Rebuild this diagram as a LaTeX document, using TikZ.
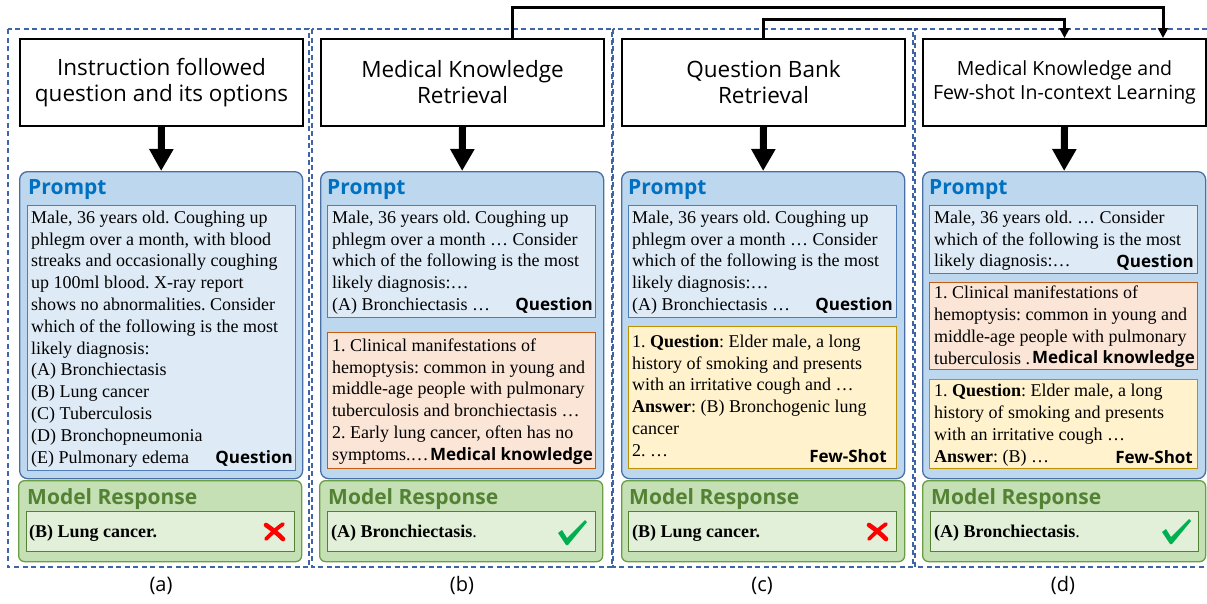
\documentclass[tikz,border=0pt]{standalone}
\usepackage{fontspec}
\setmainfont{Liberation Serif}
\newfontfamily\ui{Open Sans}
\usetikzlibrary{arrows.meta}
\frenchspacing
\definecolor{promptfill}{HTML}{BDD7EE}
\definecolor{promptdraw}{HTML}{4A6FA5}
\definecolor{qfill}{HTML}{DEEBF7}
\definecolor{qdraw}{HTML}{4F7DBA}
\definecolor{mkfill}{HTML}{FBE5D6}
\definecolor{mkdraw}{HTML}{C55A11}
\definecolor{fsfill}{HTML}{FFF2CC}
\definecolor{fsdraw}{HTML}{BF9000}
\definecolor{respfill}{HTML}{C5E0B4}
\definecolor{respdraw}{HTML}{6A9E45}
\definecolor{innerfill}{HTML}{E2F0D9}
\definecolor{innerdraw}{HTML}{548235}
\definecolor{promptblue}{HTML}{0070C0}
\definecolor{respgreen}{HTML}{548235}
\definecolor{dashblue}{HTML}{4064A8}
\definecolor{okgreen}{HTML}{00B050}
\definecolor{badred}{HTML}{FF0000}
\begin{document}
\begin{tikzpicture}[x=1pt,y=-1pt,
  panel/.style={draw=dashblue, line width=1.1pt, dash pattern=on 5pt off 3.5pt},
  titlebox/.style={draw=black, fill=white, line width=2pt, inner sep=0pt, anchor=north west,
    minimum width=283pt, minimum height=87pt, align=center, font=\ui\fontsize{22.5}{26}\selectfont},
  promptbox/.style={draw=promptdraw, fill=promptfill, line width=1.3pt, rounded corners=8pt, inner sep=0pt,
    anchor=north west, minimum width=283pt, minimum height=307pt},
  qbox/.style={draw=qdraw, fill=qfill, line width=1.1pt, inner sep=0pt, anchor=north west, minimum width=268pt},
  mkbox/.style={draw=mkdraw, fill=mkfill, line width=1.1pt, inner sep=0pt, anchor=north west, minimum width=268pt},
  fsbox/.style={draw=fsdraw, fill=fsfill, line width=1.1pt, inner sep=0pt, anchor=north west, minimum width=268pt},
  respbox/.style={draw=respdraw, fill=respfill, line width=1.3pt, rounded corners=6pt, inner sep=0pt,
    anchor=north west, minimum width=283pt, minimum height=81pt},
  innerbox/.style={draw=innerdraw, fill=innerfill, line width=1.1pt, inner sep=0pt, anchor=north west,
    minimum width=268pt, minimum height=40pt},
  body/.style={font=\fontsize{18}{21.8}\selectfont, align=left, anchor=north west, inner sep=0pt},
  tag/.style={font=\ui\bfseries\fontsize{17}{20}\selectfont, anchor=base east, inner sep=0pt},
  prompttitle/.style={font=\ui\bfseries\fontsize{21}{24}\selectfont, text=promptblue, anchor=base west, inner sep=0pt},
  resptitle/.style={font=\ui\bfseries\fontsize{21}{24}\selectfont, text=respgreen, anchor=base west, inner sep=0pt},
  resptext/.style={font=\fontsize{18}{20}\selectfont, anchor=base west, inner sep=0pt},
  sublabel/.style={font=\ui\fontsize{20}{24}\selectfont, anchor=base, inner sep=0pt},
  bigarrow/.style={line width=7pt, -{Triangle[width=23pt,length=22pt]}},
  conn/.style={line width=3pt, -{Triangle[width=10pt,length=10pt]}},
  crossA/.style={badred, line width=4.6pt, line cap=round},
  crossB/.style={badred, line width=3.8pt, line cap=round},
]
\useasboundingbox (0,0) rectangle (1207,603);
% panels
\draw[panel] (8,29) rectangle (309,567);
\draw[panel] (312,29) rectangle (612,567);
\draw[panel] (613,29) rectangle (913,567);
\draw[panel] (1207,29) -- (915,29) -- (915,567) -- (1207,567);

% ---------------- (a)
\node[titlebox] (ta) at (19,38) {Instruction followed\\question and its options};
\node[promptbox] (pa) at (19,171) {};
\draw[bigarrow] (ta.south) -- (pa.north);
\node[prompttitle] (pla) at (28,194) {Prompt};
\node[qbox, minimum height=265pt] (qa) at (27,205) {};
\node[body] (qta) at (31,209) {\rule{0pt}{14pt}Male, 36 years old. Coughing up\\phlegm over a month, with blood\\streaks and occasionally coughing\\up 100ml blood. X-ray report\\shows no abnormalities. Consider\\which of the following is the most\\likely diagnosis:\\(A) Bronchiectasis\\(B) Lung cancer\\(C) Tuberculosis\\(D) Bronchopneumonia\\(E) Pulmonary edema};
\node[tag] (qla) at (293,463) {Question};
\node[respbox] (ra) at (18,480) {};
\node[resptitle] (rla) at (27,504) {Model Response};
\node[innerbox] (ia) at (26,511) {};
\node[resptext] (ata) at (29,537) {\textbf{(B) Lung cancer.}};
\draw[crossA] (266,525) .. controls (272,529) and (278,534) .. (283,539);
\draw[crossB] (283,524) .. controls (277,528) and (271,534) .. (266,539);
\node[sublabel] (la) at (161,591) {(a)};

% ---------------- (b)
\node[titlebox] (tb) at (320,38) {Medical Knowledge\\Retrieval};
\node[promptbox] (pb) at (320,171) {};
\draw[bigarrow] (tb.south) -- (pb.north);
\node[prompttitle] (plb) at (327,194) {Prompt};
\node[qbox, minimum height=112pt] (qb) at (327,205) {};
\node[body] (qtb) at (332,209) {\rule{0pt}{14pt}Male, 36 years old. Coughing up\\phlegm over a month … Consider\\which of the following is the most\\likely diagnosis:…\\(A) Bronchiectasis …};
\node[tag] (qlb) at (593,310) {Question};
\node[mkbox, minimum height=136pt] (mb) at (327,332) {};
\node[body] (mtb) at (332,337) {\rule{0pt}{14pt}1. Clinical manifestations of\\hemoptysis: common in young and\\middle-age people with pulmonary\\tuberculosis and bronchiectasis …\\2. Early lung cancer, often has no\\symptoms.…};
\node[tag] (mlb) at (593,460) {Medical knowledge};
\node[respbox] (rb) at (319,480) {};
\node[resptitle] (rlb) at (328,504) {Model Response};
\node[innerbox] (ib) at (327,511) {};
\node[resptext] (atb) at (331,537) {\textbf{(A) Bronchiectasis}.};
\fill[okgreen, shift={(558,520)}] (0,13) -- (4,10) -- (9,18) -- (27,0) -- (29,2) -- (10,25) -- (8,25) -- cycle;
\node[sublabel] (lb) at (462,591) {(b)};

% ---------------- (c)
\node[titlebox] (tc) at (621,38) {Question Bank\\Retrieval};
\node[promptbox] (pc) at (621,171) {};
\draw[bigarrow] (tc.south) -- (pc.north);
\node[prompttitle] (plc) at (628,194) {Prompt};
\node[qbox, minimum height=112pt] (qc) at (628,205) {};
\node[body] (qtc) at (632,209) {\rule{0pt}{14pt}Male, 36 years old. Coughing up\\phlegm over a month … Consider\\which of the following is the most\\likely diagnosis:…\\(A) Bronchiectasis …};
\node[tag] (qlc) at (893,310) {Question};
\node[fsbox, minimum height=142pt] (fc) at (628,326) {};
\node[body] (ftc) at (632,333) {\rule{0pt}{14pt}1. \textbf{Question}: Elder male, a long\\history of smoking and presents\\with an irritative cough and …\\\textbf{Answer}: (B) Bronchogenic lung\\cancer\\2. …};
\node[tag] (flc) at (887,462) {Few-Shot};
\node[respbox] (rc) at (621,480) {};
\node[resptitle] (rlc) at (629,504) {Model Response};
\node[innerbox] (ic) at (628,511) {};
\node[resptext] (atc) at (632,537) {\textbf{(B) Lung cancer.}};
\draw[crossA] (869,525) .. controls (875,529) and (881,534) .. (886,539);
\draw[crossB] (886,524) .. controls (880,528) and (874,534) .. (869,539);
\node[sublabel] (lc) at (762,591) {(c)};

% ---------------- (d)
\node[titlebox, font=\ui\fontsize{19.5}{23.5}\selectfont] (td) at (922,38) {Medical Knowledge and\\Few-shot In-context Learning};
\node[promptbox] (pd) at (922,171) {};
\draw[bigarrow] (td.south) -- (pd.north);
\node[prompttitle] (pld) at (929,194) {Prompt};
\node[qbox, minimum height=68pt] (qd) at (929,205) {};
\node[body] (qtd) at (934,209) {\rule{0pt}{14pt}Male, 36 years old. … Consider\\which of the following is the most\\likely diagnosis:…};
\node[tag] (qld) at (1194,267) {Question};
\node[mkbox, minimum height=87pt] (md) at (929,282) {};
\node[body] (mtd) at (934,284.5) {\rule{0pt}{14pt}1. Clinical manifestations of\\hemoptysis: common in young and\\middle-age people with pulmonary\\tuberculosis .};
\node[tag] (mld) at (1195,363) {Medical knowledge};
\node[fsbox, minimum height=89pt] (fd) at (929,379) {};
\node[body] (ftd) at (934,382.5) {\rule{0pt}{14pt}1. \textbf{Question}: Elder male, a long\\history of smoking and presents\\with an irritative cough …\\\textbf{Answer}: (B) …};
\node[tag] (fld) at (1193,463) {Few-Shot};
\node[respbox] (rd) at (922,480) {};
\node[resptitle] (rld) at (931,504) {Model Response};
\node[innerbox] (id) at (930,511) {};
\node[resptext] (atd) at (934,537) {\textbf{(A) Bronchiectasis}.};
\fill[okgreen, shift={(1162,519)}] (0,13) -- (4,10) -- (9,18) -- (27,0) -- (29,2) -- (10,25) -- (8,25) -- cycle;
\node[sublabel] (ld) at (1063,591) {(d)};

% ---------------- top connectors
\draw[conn] ([xshift=49.5pt]tb.north) -- ++(0,-31) -| ([xshift=98.5pt]td.north);
\draw[conn] (tc.north) -- ++(0,-19) -| (td.north);
\end{tikzpicture}
\end{document}
